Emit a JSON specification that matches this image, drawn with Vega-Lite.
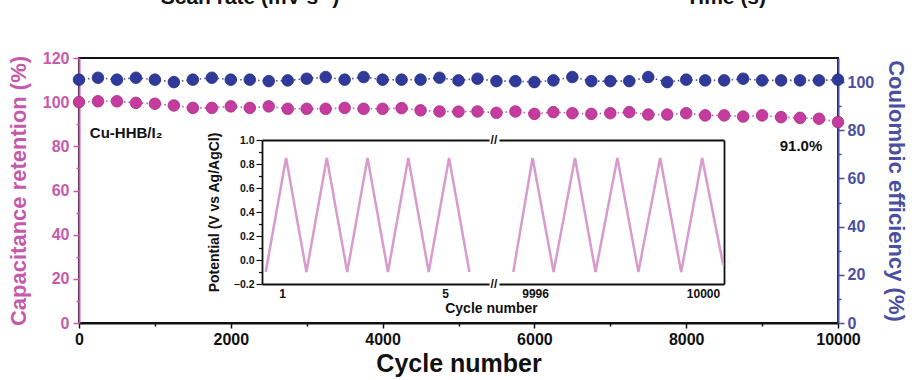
{
  "$schema": "https://vega.github.io/schema/vega-lite/v6.json",
  "width": 759,
  "height": 265,
  "autosize": {"type": "none"},
  "padding": {"left": 79, "top": 58, "right": 77, "bottom": 57},
  "background": "white",
  "config": {
    "view": {"stroke": "#111", "strokeWidth": 2},
    "font": "Liberation Sans",
    "axis": {"labelFont": "Liberation Sans", "titleFont": "Liberation Sans", "labelFontWeight": "bold", "titleFontWeight": "bold", "grid": false, "labelFlush": false, "labelOverlap": false}
  },
  "datasets": {
    "main": [
      {"cycle": 0, "retention": 100.0, "ce": 101.0},
      {"cycle": 250, "retention": 100.4, "ce": 101.8},
      {"cycle": 500, "retention": 100.4, "ce": 101.0},
      {"cycle": 750, "retention": 99.7, "ce": 101.8},
      {"cycle": 1000, "retention": 99.3, "ce": 101.0},
      {"cycle": 1250, "retention": 98.5, "ce": 100.0},
      {"cycle": 1500, "retention": 97.4, "ce": 101.0},
      {"cycle": 1750, "retention": 97.4, "ce": 101.8},
      {"cycle": 2000, "retention": 98.1, "ce": 101.0},
      {"cycle": 2250, "retention": 97.4, "ce": 101.0},
      {"cycle": 2500, "retention": 98.1, "ce": 100.4},
      {"cycle": 2750, "retention": 97.0, "ce": 100.7},
      {"cycle": 3000, "retention": 97.0, "ce": 101.4},
      {"cycle": 3250, "retention": 97.0, "ce": 102.1},
      {"cycle": 3500, "retention": 97.4, "ce": 101.0},
      {"cycle": 3750, "retention": 97.0, "ce": 102.1},
      {"cycle": 4000, "retention": 97.0, "ce": 101.0},
      {"cycle": 4250, "retention": 97.3, "ce": 101.0},
      {"cycle": 4500, "retention": 96.3, "ce": 101.0},
      {"cycle": 4750, "retention": 95.8, "ce": 101.8},
      {"cycle": 5000, "retention": 95.7, "ce": 100.7},
      {"cycle": 5250, "retention": 95.8, "ce": 101.4},
      {"cycle": 5500, "retention": 95.2, "ce": 100.4},
      {"cycle": 5750, "retention": 95.8, "ce": 100.4},
      {"cycle": 6000, "retention": 94.7, "ce": 100.0},
      {"cycle": 6250, "retention": 95.5, "ce": 100.7},
      {"cycle": 6500, "retention": 95.0, "ce": 102.1},
      {"cycle": 6750, "retention": 94.7, "ce": 100.4},
      {"cycle": 7000, "retention": 95.0, "ce": 100.4},
      {"cycle": 7250, "retention": 95.5, "ce": 100.4},
      {"cycle": 7500, "retention": 94.4, "ce": 102.1},
      {"cycle": 7750, "retention": 94.4, "ce": 100.0},
      {"cycle": 8000, "retention": 95.0, "ce": 101.0},
      {"cycle": 8250, "retention": 94.0, "ce": 100.7},
      {"cycle": 8500, "retention": 94.0, "ce": 100.7},
      {"cycle": 8750, "retention": 93.5, "ce": 101.4},
      {"cycle": 9000, "retention": 94.0, "ce": 100.7},
      {"cycle": 9250, "retention": 93.2, "ce": 100.7},
      {"cycle": 9500, "retention": 92.9, "ce": 100.7},
      {"cycle": 9750, "retention": 92.5, "ce": 100.7},
      {"cycle": 10000, "retention": 91.0, "ce": 101.0}
    ],
    "wave1": [
      {"t": 0.6, "v": -0.1}, {"t": 1.1, "v": 0.85}, {"t": 1.6, "v": -0.1}, {"t": 2.1, "v": 0.85},
      {"t": 2.6, "v": -0.1}, {"t": 3.1, "v": 0.85}, {"t": 3.6, "v": -0.1}, {"t": 4.1, "v": 0.85},
      {"t": 4.6, "v": -0.1}, {"t": 5.1, "v": 0.85}, {"t": 5.6, "v": -0.1}
    ],
    "wave2": [
      {"t": 9995.48, "v": -0.1}, {"t": 9995.94, "v": 0.85}, {"t": 9996.44, "v": -0.1}, {"t": 9996.95, "v": 0.85},
      {"t": 9997.44, "v": -0.1}, {"t": 9997.96, "v": 0.85}, {"t": 9998.46, "v": -0.1}, {"t": 9998.98, "v": 0.85},
      {"t": 9999.48, "v": -0.1}, {"t": 9999.98, "v": 0.85}, {"t": 10000.48, "v": -0.04}
    ],
    "notes": [
      {"cycle": 620, "y": 86, "label": "Cu-HHB/I₂"},
      {"cycle": 9512, "y": 80.2, "label": "91.0%"}
    ],
    "cut": [
      {"cycle": 2253, "y": 144.6, "label": "Scan rate (mV s⁻¹)"},
      {"cycle": 8524, "y": 144.6, "label": "Time (s)"}
    ],
    "brk": [
      {"t": 6.2, "v": 1.0, "label": "//"},
      {"t": 6.2, "v": -0.2, "label": "//"}
    ]
  },
  "resolve": {"scale": {"x": "independent", "y": "independent"}, "axis": {"x": "independent", "y": "independent"}},
  "layer": [
    {
      "data": {"name": "main"},
      "encoding": {
        "x": {"field": "cycle", "type": "quantitative", "scale": {"domain": [0, 10000], "nice": false, "zero": false},
          "axis": {"orient": "bottom", "values": [0, 2000, 4000, 6000, 8000, 10000], "format": "d", "title": "Cycle number", "titleFontSize": 25, "labelFontSize": 16, "tickSize": 5, "tickWidth": 1.5, "domainColor": "#111", "domainWidth": 2, "tickColor": "#111", "labelColor": "#111", "titleColor": "#111", "labelPadding": 3, "titlePadding": 4}},
        "y": {"field": "retention", "type": "quantitative", "scale": {"domain": [0, 120], "nice": false, "zero": false},
          "axis": {"orient": "left", "values": [0, 20, 40, 60, 80, 100, 120], "title": "Capacitance retention (%)", "titleFontSize": 22, "labelFontSize": 16, "tickSize": 6, "tickWidth": 1.5, "domainColor": "#c65aaa", "domainWidth": 2, "tickColor": "#c65aaa", "labelColor": "#c65aaa", "titleColor": "#c65aaa", "labelPadding": 4, "titlePadding": 12}}
      },
      "layer": [
        {"mark": {"type": "line", "color": "#c65aaa", "strokeWidth": 1.6, "strokeDash": [1.5, 3]}},
        {"mark": {"type": "point", "filled": true, "size": 135, "color": "#c53c9e", "opacity": 1, "stroke": "#a52d85", "strokeWidth": 0.8}}
      ]
    },
    {
      "data": {"name": "main"},
      "encoding": {
        "x": {"field": "cycle", "type": "quantitative", "scale": {"domain": [0, 10000], "nice": false, "zero": false}, "axis": null},
        "y": {"field": "ce", "type": "quantitative", "scale": {"domain": [0, 110], "nice": false, "zero": false},
          "axis": {"orient": "right", "values": [0, 20, 40, 60, 80, 100], "title": "Coulombic efficiency (%)", "titleFontSize": 22, "labelFontSize": 16, "tickSize": 6, "tickWidth": 1.5, "domainColor": "#4a4fa2", "domainWidth": 2, "tickColor": "#4a4fa2", "labelColor": "#4a4fa2", "titleColor": "#4a4fa2", "labelPadding": 3, "titlePadding": 10}}
      },
      "layer": [
        {"mark": {"type": "line", "color": "#4a4fa2", "strokeWidth": 1.6, "strokeDash": [1.5, 3]}},
        {"mark": {"type": "point", "filled": true, "size": 135, "color": "#2f3a9a", "opacity": 1, "stroke": "#232c80", "strokeWidth": 0.8}}
      ]
    },
    {
      "data": {"name": "main"},
      "mark": {"type": "point", "opacity": 0},
      "encoding": {
        "x": {"field": "cycle", "type": "quantitative", "scale": {"domain": [0, 10000], "nice": false, "zero": false},
          "axis": {"orient": "bottom", "values": [1000, 3000, 5000, 7000, 9000], "labels": false, "domain": false, "tickSize": 3, "tickWidth": 1.5, "tickColor": "#111", "title": null}}
      }
    },
    {
      "data": {"name": "main"},
      "mark": {"type": "point", "opacity": 0},
      "encoding": {
        "y": {"field": "retention", "type": "quantitative", "scale": {"domain": [0, 120], "nice": false, "zero": false},
          "axis": {"orient": "left", "values": [10, 30, 50, 70, 90, 110], "labels": false, "domain": false, "tickSize": 3, "tickWidth": 1.5, "tickColor": "#c65aaa", "title": null}}
      }
    },
    {
      "data": {"name": "main"},
      "mark": {"type": "point", "opacity": 0},
      "encoding": {
        "y": {"field": "ce", "type": "quantitative", "scale": {"domain": [0, 110], "nice": false, "zero": false},
          "axis": {"orient": "right", "values": [10, 30, 50, 70, 90], "labels": false, "domain": false, "tickSize": 3, "tickWidth": 1.5, "tickColor": "#4a4fa2", "title": null}}
      }
    },
    {
      "data": {"name": "wave1"},
      "mark": {"type": "line", "color": "#d99bcd", "strokeWidth": 2.5},
      "encoding": {
        "x": {"field": "t", "type": "quantitative", "scale": {"domain": [0.509, 6.08], "range": [183, 410], "nice": false, "zero": false},
          "axis": {"orient": "bottom", "offset": -39, "values": [1, 5], "format": "d", "ticks": false, "tickSize": 0, "labelFontSize": 12, "labelPadding": 4, "domainColor": "#111", "domainWidth": 1.8, "labelColor": "#111", "title": "Cycle number", "titleFontSize": 14, "titleColor": "#111", "titleX": 412, "titleY": 28, "titleBaseline": "alphabetic"}},
        "y": {"field": "v", "type": "quantitative", "scale": {"domain": [-0.2, 1.0], "range": [226, 82], "nice": false, "zero": false},
          "axis": {"orient": "left", "offset": -183, "values": [-0.2, 0, 0.2, 0.4, 0.6, 0.8, 1.0], "format": ".1f", "tickSize": 6, "tickWidth": 1.2, "tickColor": "#111", "labelFontSize": 10.5, "labelPadding": 2, "domainColor": "#111", "domainWidth": 1.8, "labelColor": "#111", "title": "Potential (V vs Ag/AgCl)", "titleFontSize": 14, "titleColor": "#111", "titlePadding": 12}}
      }
    },
    {
      "data": {"name": "wave2"},
      "mark": {"type": "line", "color": "#d99bcd", "strokeWidth": 2.5},
      "encoding": {
        "x": {"field": "t", "type": "quantitative", "scale": {"domain": [9995.14, 10000.5], "range": [420, 645], "nice": false, "zero": false},
          "axis": {"orient": "bottom", "offset": -39, "values": [9996, 10000], "format": "d", "ticks": false, "tickSize": 0, "labelFontSize": 12, "labelPadding": 4, "domainColor": "#111", "domainWidth": 1.8, "labelColor": "#111", "title": null}},
        "y": {"field": "v", "type": "quantitative", "scale": {"domain": [-0.2, 1.0], "range": [226, 82], "nice": false, "zero": false},
          "axis": {"orient": "right", "offset": -114, "labels": false, "ticks": false, "domainColor": "#111", "domainWidth": 1.8, "title": null}}
      }
    },
    {
      "data": {"name": "wave1"},
      "mark": {"type": "point", "opacity": 0},
      "encoding": {
        "x": {"field": "t", "type": "quantitative", "scale": {"domain": [0.509, 6.08], "range": [183, 410], "nice": false, "zero": false},
          "axis": {"orient": "top", "offset": -82, "labels": false, "ticks": false, "domainColor": "#111", "domainWidth": 1.8, "title": null}}
      }
    },
    {
      "data": {"name": "wave2"},
      "mark": {"type": "point", "opacity": 0},
      "encoding": {
        "x": {"field": "t", "type": "quantitative", "scale": {"domain": [9995.14, 10000.5], "range": [420, 645], "nice": false, "zero": false},
          "axis": {"orient": "top", "offset": -82, "labels": false, "ticks": false, "domainColor": "#111", "domainWidth": 1.8, "title": null}}
      }
    },
    {
      "data": {"name": "wave1"},
      "mark": {"type": "point", "opacity": 0},
      "encoding": {
        "y": {"field": "v", "type": "quantitative", "scale": {"domain": [-0.2, 1.0], "range": [226, 82], "nice": false, "zero": false},
          "axis": {"orient": "left", "offset": -183, "values": [-0.1, 0.1, 0.3, 0.5, 0.7, 0.9], "labels": false, "domain": false, "tickSize": 3.5, "tickWidth": 1.2, "tickColor": "#111", "title": null}}
      }
    },
    {
      "data": {"name": "notes"},
      "mark": {"type": "text", "font": "Liberation Sans", "fontWeight": "bold", "fontSize": 15, "color": "#111", "align": "center", "baseline": "middle"},
      "encoding": {
        "x": {"field": "cycle", "type": "quantitative", "scale": {"domain": [0, 10000], "nice": false, "zero": false}, "axis": null},
        "y": {"field": "y", "type": "quantitative", "scale": {"domain": [0, 120], "nice": false, "zero": false}, "axis": null},
        "text": {"field": "label"}
      }
    },
    {
      "data": {"name": "cut"},
      "mark": {"type": "text", "font": "Liberation Sans", "fontWeight": "bold", "fontSize": 21, "color": "#111", "align": "center", "baseline": "alphabetic", "clip": false},
      "encoding": {
        "x": {"field": "cycle", "type": "quantitative", "scale": {"domain": [0, 10000], "nice": false, "zero": false}, "axis": null},
        "y": {"field": "y", "type": "quantitative", "scale": {"domain": [0, 120], "nice": false, "zero": false}, "axis": null},
        "text": {"field": "label"}
      }
    },
    {
      "data": {"name": "brk"},
      "mark": {"type": "text", "font": "Liberation Sans", "fontWeight": "bold", "fontSize": 12, "color": "#111", "align": "center", "baseline": "middle"},
      "encoding": {
        "x": {"field": "t", "type": "quantitative", "scale": {"domain": [0.509, 6.08], "range": [183, 410], "nice": false, "zero": false}, "axis": null},
        "y": {"field": "v", "type": "quantitative", "scale": {"domain": [-0.2, 1.0], "range": [226, 82], "nice": false, "zero": false}, "axis": null},
        "text": {"field": "label"}
      }
    }
  ]
}
